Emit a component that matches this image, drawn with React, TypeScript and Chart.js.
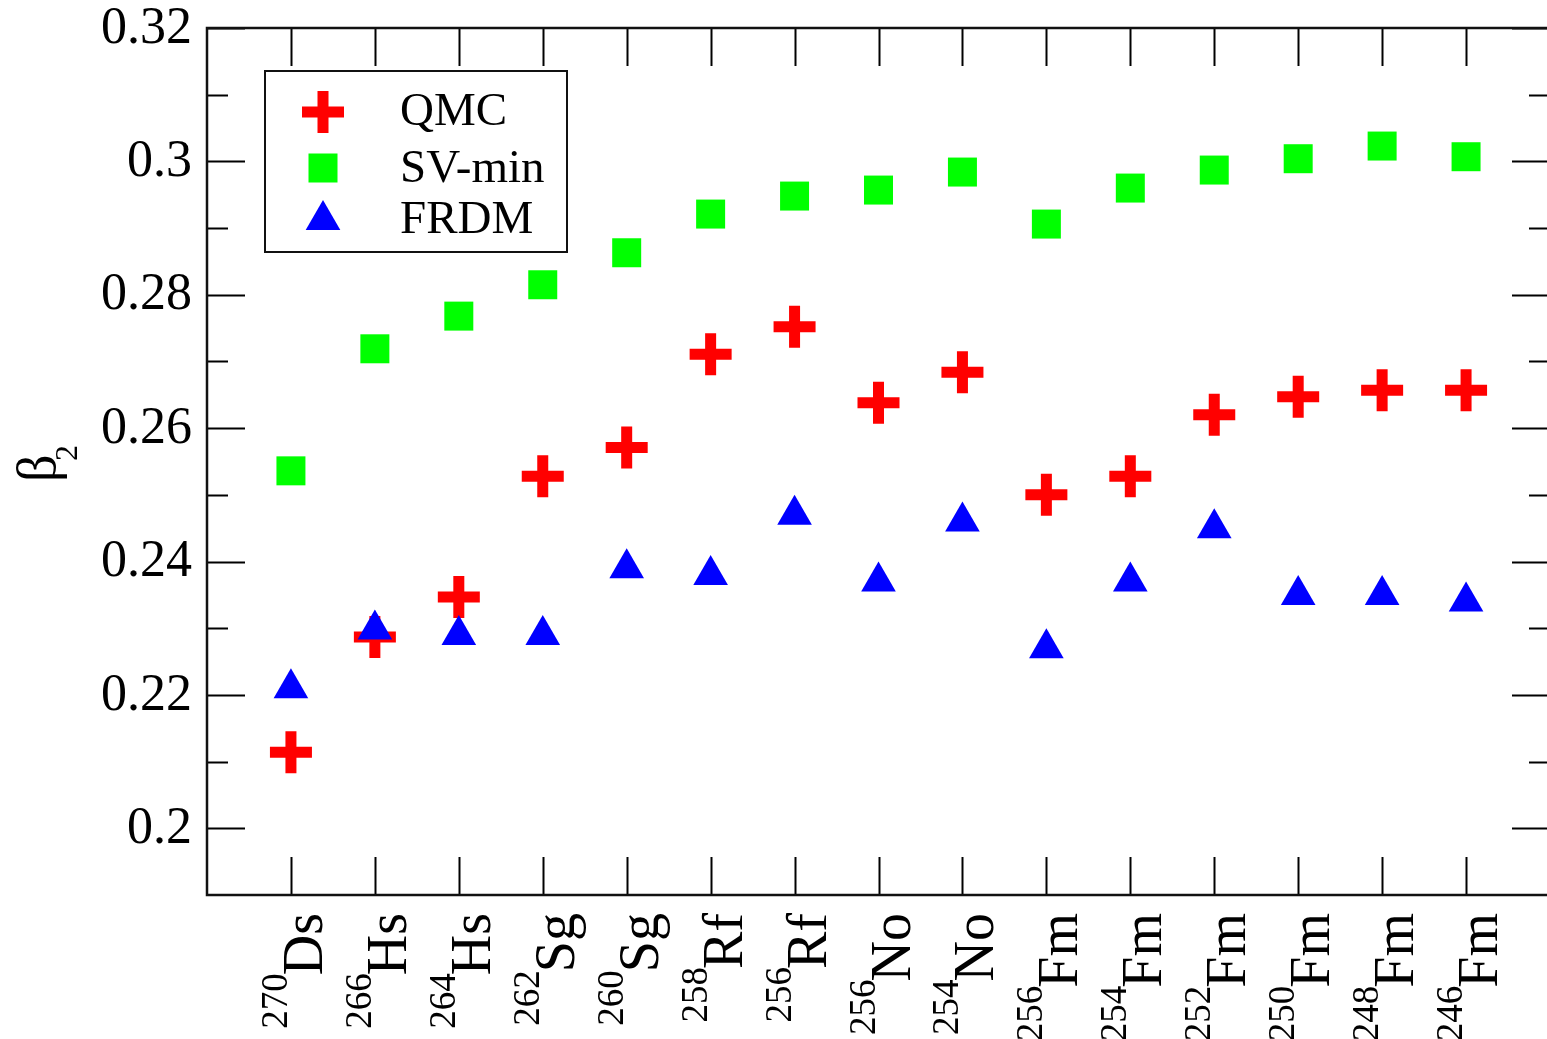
import React, { useEffect, useRef } from "react";
import { Chart, registerables } from "chart.js";

Chart.register(...registerables);

// ---- data ----
const elements = ["Ds", "Hs", "Hs", "Sg", "Sg", "Rf", "Rf", "No", "No", "Fm", "Fm", "Fm", "Fm", "Fm", "Fm"];
const massNumbers = ["270", "266", "264", "262", "260", "258", "256", "256", "254", "256", "254", "252", "250", "248", "246"];

const qmc = [0.2114, 0.2287, 0.2347, 0.2528, 0.2571, 0.2711, 0.2752, 0.2638, 0.2684, 0.25, 0.2528, 0.262, 0.2647, 0.2657, 0.2657];
const svMin = [0.2536, 0.2719, 0.2768, 0.2815, 0.2863, 0.2921, 0.2948, 0.2957, 0.2984, 0.2906, 0.296, 0.2987, 0.3004, 0.3023, 0.3007];
const frdm = [0.221, 0.2298, 0.229, 0.229, 0.239, 0.238, 0.247, 0.237, 0.246, 0.227, 0.237, 0.245, 0.235, 0.235, 0.234];

const seriesNames = ["QMC", "SV-min", "FRDM"];

const yMajorTicks = [0.2, 0.22, 0.24, 0.26, 0.28, 0.3, 0.32];
const yTickLabels = ["0.2", "0.22", "0.24", "0.26", "0.28", "0.3", "0.32"];
const yMinorTicks = [0.21, 0.23, 0.25, 0.27, 0.29, 0.31];

const Y_MIN = 0.19;
const Y_MAX = 0.32;

const SERIF = "'Liberation Serif', 'Times New Roman', serif";

function drawPlus(ctx: CanvasRenderingContext2D, x: number, y: number) {
  ctx.save();
  ctx.fillStyle = "#ff0000";
  ctx.fillRect(x - 21, y - 5.5, 42, 11);
  ctx.fillRect(x - 5.5, y - 21, 11, 42);
  ctx.restore();
}
function drawSquare(ctx: CanvasRenderingContext2D, x: number, y: number) {
  ctx.save();
  ctx.fillStyle = "#00ff00";
  ctx.fillRect(x - 14.5, y - 14.5, 29, 29);
  ctx.restore();
}
function drawTri(ctx: CanvasRenderingContext2D, x: number, y: number) {
  const r = 20;
  ctx.save();
  ctx.fillStyle = "#0000ff";
  ctx.beginPath();
  ctx.moveTo(x, y - r);
  ctx.lineTo(x + r * Math.sin((2 * Math.PI) / 3), y + r / 2);
  ctx.lineTo(x - r * Math.sin((2 * Math.PI) / 3), y + r / 2);
  ctx.closePath();
  ctx.fill();
  ctx.restore();
}

const framePlugin = {
  id: "xmgraceFrame",
  beforeDatasetsDraw(chart: any) {
    const { ctx, chartArea: a, scales } = chart;
    const xs = scales.x;
    const ys = scales.y;
    ctx.save();
    ctx.strokeStyle = "#000";
    ctx.lineWidth = 2;
    const line = (x1: number, y1: number, x2: number, y2: number) => {
      ctx.beginPath();
      ctx.moveTo(x1, y1);
      ctx.lineTo(x2, y2);
      ctx.stroke();
    };
    yMajorTicks.forEach((v) => {
      const py = Math.round(ys.getPixelForValue(v)) + 0.5;
      line(a.left, py, a.left + 38, py);
      line(a.right - 38, py, a.right, py);
    });
    yMinorTicks.forEach((v) => {
      const py = Math.round(ys.getPixelForValue(v)) + 0.5;
      line(a.left, py, a.left + 21, py);
      line(a.right - 21, py, a.right, py);
    });
    elements.forEach((_, i) => {
      const px = Math.round(xs.getPixelForValue(i)) + 0.5;
      line(px, a.bottom, px, a.bottom - 38);
      line(px, a.top, px, a.top + 38);
    });
    ctx.lineWidth = 2.5;
    ctx.strokeStyle = "#111";
    ctx.strokeRect(a.left, a.top, a.right - a.left, a.bottom - a.top);
    ctx.restore();
  },
  afterDraw(chart: any) {
    const { ctx, chartArea: a, scales } = chart;
    const xs = scales.x;
    const ys = scales.y;
    ctx.save();
    ctx.fillStyle = "#000";

    // y tick labels
    ctx.font = `52px ${SERIF}`;
    ctx.textAlign = "right";
    ctx.textBaseline = "middle";
    yMajorTicks.forEach((v, i) => {
      ctx.fillText(yTickLabels[i], a.left - 15, ys.getPixelForValue(v) + 1);
    });

    // x-axis labels (rotated, mass number as superscript)
    elements.forEach((el, i) => {
      const px = xs.getPixelForValue(i);
      ctx.save();
      ctx.translate(px, a.bottom + 18);
      ctx.rotate(-Math.PI / 2);
      ctx.textAlign = "right";
      ctx.textBaseline = "alphabetic";
      ctx.font = `56px ${SERIF}`;
      ctx.fillText(el, 0, 31);
      const w = ctx.measureText(el).width;
      ctx.font = `37px ${SERIF}`;
      ctx.fillText(massNumbers[i], -w + 2, -4);
      ctx.restore();
    });

    // y-axis title beta_2
    ctx.save();
    ctx.translate(55, 482);
    ctx.rotate(-Math.PI / 2);
    ctx.textAlign = "left";
    ctx.textBaseline = "alphabetic";
    ctx.font = `54px ${SERIF}`;
    ctx.fillText("β", 0, 0);
    ctx.font = `32px ${SERIF}`;
    ctx.fillText("2", 21, 22);
    ctx.restore();

    // legend
    ctx.fillStyle = "#fff";
    ctx.fillRect(265, 71, 302, 181);
    ctx.strokeStyle = "#111";
    ctx.lineWidth = 2;
    ctx.strokeRect(265, 71, 302, 181);
    drawPlus(ctx, 323, 112);
    drawSquare(ctx, 323, 168);
    drawTri(ctx, 323, 220);
    ctx.fillStyle = "#000";
    ctx.font = `47px ${SERIF}`;
    ctx.textAlign = "left";
    ctx.textBaseline = "alphabetic";
    ctx.fillText(seriesNames[0], 400, 125);
    ctx.fillText(seriesNames[1], 400, 182);
    ctx.fillText(seriesNames[2], 400, 233);
    ctx.restore();
  },
};

export default function App() {
  const canvasRef = useRef<HTMLCanvasElement | null>(null);

  useEffect(() => {
    const canvas = canvasRef.current;
    if (!canvas) return;
    const toPts = (arr: number[]) => arr.map((v, i) => ({ x: i, y: v }));
    const chart = new Chart(canvas, {
      type: "scatter",
      data: {
        datasets: [
          {
            label: seriesNames[0],
            data: toPts(qmc),
            pointStyle: "cross",
            pointRadius: 21,
            pointBorderWidth: 11,
            borderColor: "#ff0000",
            backgroundColor: "#ff0000",
            order: 2,
          },
          {
            label: seriesNames[1],
            data: toPts(svMin),
            pointStyle: "rect",
            pointRadius: 20.5,
            pointBorderWidth: 0,
            borderColor: "#00ff00",
            backgroundColor: "#00ff00",
            order: 1,
          },
          {
            label: seriesNames[2],
            data: toPts(frdm),
            pointStyle: "triangle",
            pointRadius: 20,
            pointBorderWidth: 0,
            borderColor: "#0000ff",
            backgroundColor: "#0000ff",
            order: 0,
          },
        ],
      },
      options: {
        responsive: false,
        maintainAspectRatio: false,
        animation: false,
        devicePixelRatio: 1,
        layout: {
          autoPadding: false,
          padding: { top: 28, right: 10, left: 207, bottom: 144 },
        },
        plugins: {
          legend: { display: false },
          tooltip: { enabled: false },
        },
        scales: {
          x: { type: "linear", min: -1, max: 15, display: false },
          y: { type: "linear", min: Y_MIN, max: Y_MAX, display: false },
        },
      },
      plugins: [framePlugin],
    });
    return () => chart.destroy();
  }, []);

  return (
    <div
      style={{
        position: "fixed",
        left: 0,
        top: 0,
        width: 1547,
        height: 1039,
        overflow: "hidden",
        background: "#fff",
      }}
    >
      <div style={{ position: "absolute", left: 0, top: 0, width: 1560, height: 1039 }}>
        <canvas
          ref={canvasRef}
          width={1560}
          height={1039}
          style={{ display: "block", width: 1560, height: 1039 }}
        />
      </div>
    </div>
  );
}
